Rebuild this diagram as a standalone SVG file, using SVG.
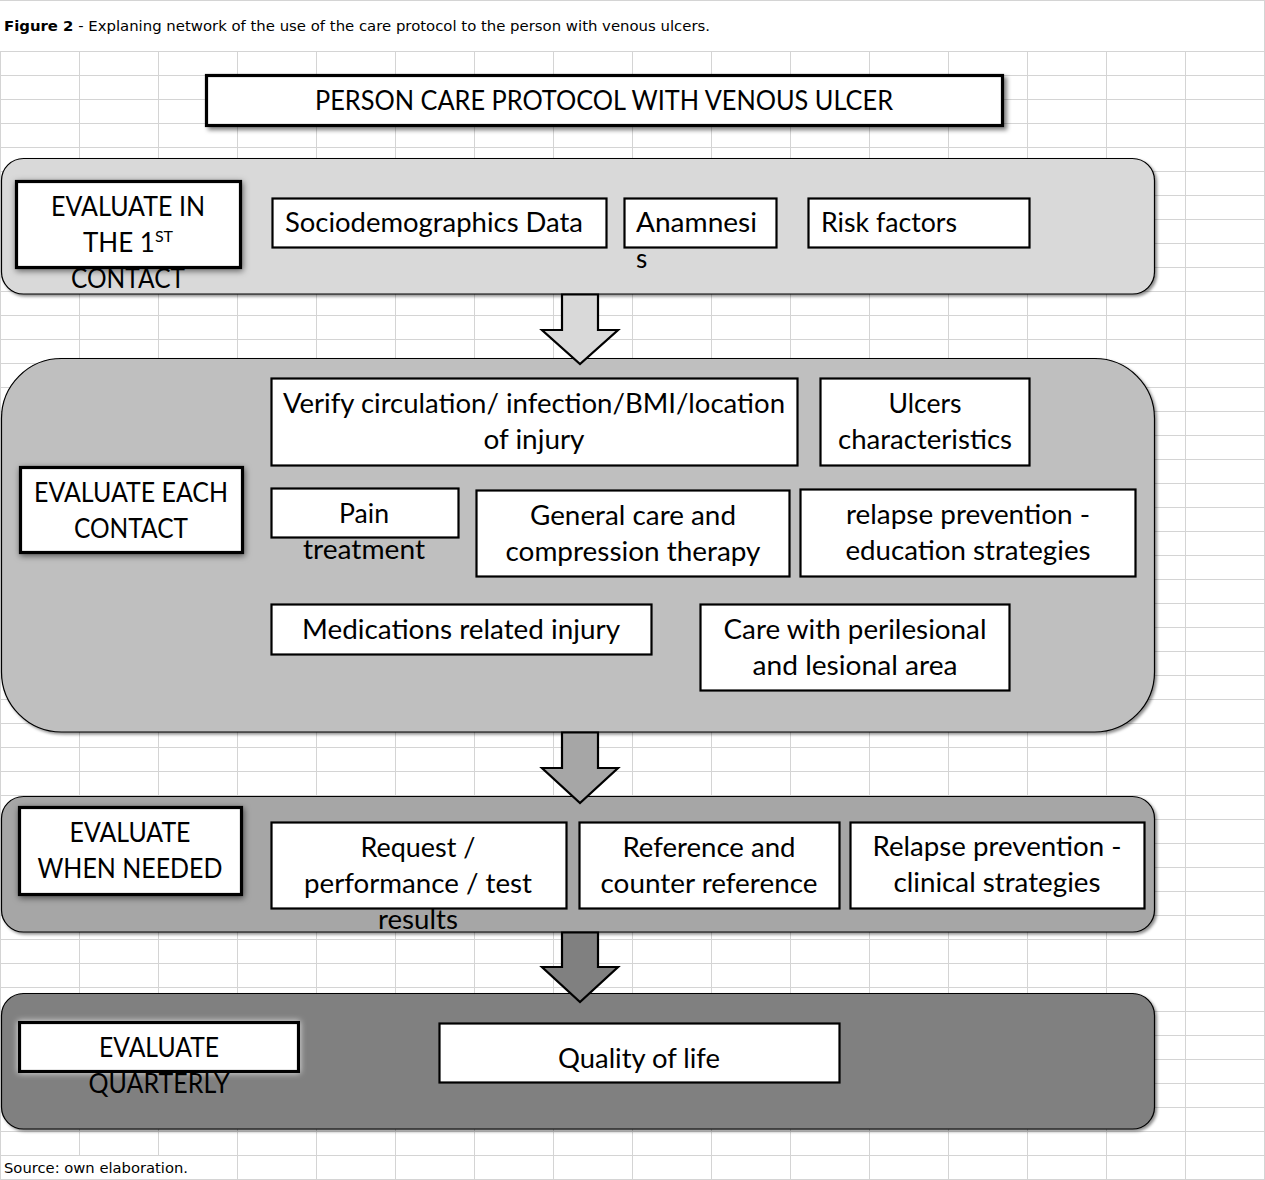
<svg xmlns="http://www.w3.org/2000/svg" width="1265" height="1180" viewBox="0 0 1265 1180">
<defs>
<style>
.grid{stroke:#d4d4d4;stroke-width:1;fill:none}
.panel{stroke:#000;stroke-width:1.2}
.box{fill:#fff;stroke:#000;stroke-width:2.2}
.hbox{fill:#fff;stroke:#000;stroke-width:3.2}
.t{font-family:Lato,"Open Sans","Liberation Sans",sans-serif;font-size:26px;fill:#000}
.c{text-anchor:middle}
.cap{font-family:"DejaVu Sans",Verdana,sans-serif;font-size:14.7px;fill:#000}
.arrow{stroke:#000;stroke-width:2.2;stroke-linejoin:miter}
</style>
<filter id="pshadow" x="-5%" y="-5%" width="110%" height="120%">
<feDropShadow dx="2" dy="2" stdDeviation="1.5" flood-color="#000" flood-opacity="0.45"/>
</filter>
<filter id="glow" x="-10%" y="-20%" width="120%" height="150%">
<feDropShadow dx="1" dy="2" stdDeviation="3" flood-color="#000" flood-opacity="0.55"/>
</filter>
<filter id="wglow" x="-10%" y="-30%" width="120%" height="160%">
<feDropShadow dx="0" dy="0" stdDeviation="3" flood-color="#fff" flood-opacity="0.8"/>
</filter>
<filter id="tshadow" x="-5%" y="-20%" width="110%" height="150%">
<feDropShadow dx="3" dy="3" stdDeviation="2" flood-color="#000" flood-opacity="0.5"/>
</filter>
</defs>
<rect x="0" y="0" width="1265" height="1180" fill="#fff"/>
<g id="grid" class="grid">
<path d="M0.5,51V1179 M79.5,51V1155 M158.5,51V1155 M237.5,51V1179 M316.5,51V1179 M395.5,51V1179 M474.5,51V1179 M553.5,51V1179 M632.5,51V1179 M711.5,51V1179 M790.5,51V1179 M869.5,51V1179 M948.5,51V1179 M1027.5,51V1179 M1106.5,51V1179 M1185.5,51V1179 M1264.5,0V1179"/>
<path d="M0,0.5H1265 M0,51.5H1265 M0,75.5H1265 M0,99.5H1265 M0,123.5H1265 M0,147.5H1265 M0,171.5H1265 M0,195.5H1265 M0,219.5H1265 M0,243.5H1265 M0,267.5H1265 M0,291.5H1265 M0,315.5H1265 M0,339.5H1265 M0,363.5H1265 M0,387.5H1265 M0,411.5H1265 M0,435.5H1265 M0,459.5H1265 M0,483.5H1265 M0,507.5H1265 M0,531.5H1265 M0,555.5H1265 M0,579.5H1265 M0,603.5H1265 M0,627.5H1265 M0,651.5H1265 M0,675.5H1265 M0,699.5H1265 M0,723.5H1265 M0,747.5H1265 M0,771.5H1265 M0,795.5H1265 M0,819.5H1265 M0,843.5H1265 M0,867.5H1265 M0,891.5H1265 M0,915.5H1265 M0,939.5H1265 M0,963.5H1265 M0,987.5H1265 M0,1011.5H1265 M0,1035.5H1265 M0,1059.5H1265 M0,1083.5H1265 M0,1107.5H1265 M0,1131.5H1265 M0,1155.5H1265 M0,1179.5H1265"/>
</g>
<text id="caption" class="cap" x="4" y="31" textLength="706" lengthAdjust="spacingAndGlyphs"><tspan font-weight="bold">Figure 2</tspan> - Explaning network of the use of the care protocol to the person with venous ulcers.</text>

<g id="title">
<rect class="hbox" x="206.5" y="75.5" width="796" height="50" filter="url(#tshadow)"/>
<text class="t c" x="604" y="110" textLength="578" lengthAdjust="spacingAndGlyphs">PERSON CARE PROTOCOL WITH VENOUS ULCER</text>
</g>

<g id="panel-first-contact"><rect class="panel" x="1.5" y="158.5" width="1153" height="135.5" rx="22" fill="#d9d9d9" filter="url(#pshadow)"/></g>
<g id="panel-each-contact"><rect class="panel" x="1.5" y="358.5" width="1153" height="373.5" rx="60" fill="#bfbfbf" filter="url(#pshadow)"/></g>
<g id="panel-when-needed"><rect class="panel" x="1.5" y="796.5" width="1153" height="135.5" rx="22" fill="#a6a6a6" filter="url(#pshadow)"/></g>
<g id="panel-quarterly"><rect class="panel" x="1.5" y="993.5" width="1153" height="135.5" rx="22" fill="#808080" filter="url(#pshadow)"/></g>

<g id="connectors">
<path class="arrow" fill="#d9d9d9" d="M562,294.5V330H542L580,364L618,330H598V294.5Z"/>
<path class="arrow" fill="#a6a6a6" d="M562,732.5V768H542L580,803L618,768H598V732.5Z"/>
<path class="arrow" fill="#808080" d="M562,932.5V967H542L580,1002L618,967H598V932.5Z"/>
</g>

<g id="evaluate-first-contact">
<rect class="hbox" x="16.5" y="181.5" width="224" height="86" filter="url(#glow)"/>
<text class="t c" x="128" y="216" textLength="154" lengthAdjust="spacingAndGlyphs">EVALUATE IN</text>
<text class="t c" x="128" y="252">THE 1<tspan font-size="16" dy="-10">ST</tspan></text>
<text class="t c" x="128" y="288" textLength="114" lengthAdjust="spacingAndGlyphs">CONTACT</text>
</g>
<g id="sociodemographics">
<rect class="box" x="272.5" y="198.5" width="334" height="49"/>
<text class="t" x="285" y="232" textLength="298" lengthAdjust="spacingAndGlyphs">Sociodemographics Data</text>
</g>
<g id="anamnesis">
<rect class="box" x="624.5" y="198.5" width="152" height="49"/>
<text class="t" x="636" y="232" textLength="121" lengthAdjust="spacingAndGlyphs">Anamnesi</text>
<text class="t" x="636" y="268">s</text>
</g>
<g id="risk-factors">
<rect class="box" x="808.5" y="198.5" width="221" height="49"/>
<text class="t" x="821" y="232" textLength="136" lengthAdjust="spacingAndGlyphs">Risk factors</text>
</g>

<g id="evaluate-each-contact">
<rect class="hbox" x="20.5" y="467.5" width="222" height="85" filter="url(#glow)"/>
<text class="t c" x="131" y="502" textLength="194" lengthAdjust="spacingAndGlyphs">EVALUATE EACH</text>
<text class="t c" x="131" y="538" textLength="114" lengthAdjust="spacingAndGlyphs">CONTACT</text>
</g>
<g id="verify-circulation">
<rect class="box" x="271.5" y="378.5" width="526" height="87"/>
<text class="t c" x="534" y="413" textLength="502" lengthAdjust="spacingAndGlyphs">Verify circulation/ infection/BMI/location</text>
<text class="t c" x="534" y="449" textLength="101" lengthAdjust="spacingAndGlyphs">of injury</text>
</g>
<g id="ulcers-characteristics">
<rect class="box" x="820.5" y="378.5" width="209" height="87"/>
<text class="t c" x="925" y="413" textLength="73" lengthAdjust="spacingAndGlyphs">Ulcers</text>
<text class="t c" x="925" y="449" textLength="174" lengthAdjust="spacingAndGlyphs">characteristics</text>
</g>
<g id="pain-treatment">
<rect class="box" x="271.5" y="488.5" width="187" height="49"/>
<text class="t c" x="364" y="523" textLength="50" lengthAdjust="spacingAndGlyphs">Pain</text>
<text class="t c" x="364" y="559" textLength="122" lengthAdjust="spacingAndGlyphs">treatment</text>
</g>
<g id="general-care">
<rect class="box" x="476.5" y="490.5" width="313" height="86"/>
<text class="t c" x="633" y="525" textLength="206" lengthAdjust="spacingAndGlyphs">General care and</text>
<text class="t c" x="633" y="561" textLength="255" lengthAdjust="spacingAndGlyphs">compression therapy</text>
</g>
<g id="relapse-education">
<rect class="box" x="800.5" y="489.5" width="335" height="87"/>
<text class="t c" x="968" y="524" textLength="244" lengthAdjust="spacingAndGlyphs">relapse prevention -</text>
<text class="t c" x="968" y="560" textLength="245" lengthAdjust="spacingAndGlyphs">education strategies</text>
</g>
<g id="medications">
<rect class="box" x="271.5" y="604.5" width="380" height="50"/>
<text class="t c" x="461" y="639" textLength="318" lengthAdjust="spacingAndGlyphs">Medications related injury</text>
</g>
<g id="perilesional-care">
<rect class="box" x="700.5" y="604.5" width="309" height="86"/>
<text class="t c" x="855" y="639" textLength="263" lengthAdjust="spacingAndGlyphs">Care with perilesional</text>
<text class="t c" x="855" y="675" textLength="205" lengthAdjust="spacingAndGlyphs">and lesional area</text>
</g>

<g id="evaluate-when-needed">
<rect class="hbox" x="19.5" y="807.5" width="222" height="87" filter="url(#glow)"/>
<text class="t c" x="130" y="842" textLength="121" lengthAdjust="spacingAndGlyphs">EVALUATE</text>
<text class="t c" x="130" y="878" textLength="185" lengthAdjust="spacingAndGlyphs">WHEN NEEDED</text>
</g>
<g id="request-tests">
<rect class="box" x="271.5" y="822.5" width="295" height="86"/>
<text class="t c" x="418" y="857" textLength="115" lengthAdjust="spacingAndGlyphs">Request /</text>
<text class="t c" x="418" y="893" textLength="228" lengthAdjust="spacingAndGlyphs">performance / test</text>
<text class="t c" x="418" y="929" textLength="80" lengthAdjust="spacingAndGlyphs">results</text>
</g>
<g id="reference-counter">
<rect class="box" x="579.5" y="822.5" width="260" height="86"/>
<text class="t c" x="709" y="857" textLength="173" lengthAdjust="spacingAndGlyphs">Reference and</text>
<text class="t c" x="709" y="893" textLength="217" lengthAdjust="spacingAndGlyphs">counter reference</text>
</g>
<g id="relapse-clinical">
<rect class="box" x="850.5" y="822.5" width="294" height="86"/>
<text class="t c" x="997" y="856" textLength="249" lengthAdjust="spacingAndGlyphs">Relapse prevention -</text>
<text class="t c" x="997" y="892" textLength="207" lengthAdjust="spacingAndGlyphs">clinical strategies</text>
</g>

<g id="evaluate-quarterly">
<rect class="hbox" x="19.5" y="1022.5" width="279" height="49" filter="url(#wglow)"/>
<text class="t c" x="159" y="1057" textLength="120" lengthAdjust="spacingAndGlyphs">EVALUATE</text>
<text class="t c" x="159" y="1093" textLength="141" lengthAdjust="spacingAndGlyphs">QUARTERLY</text>
</g>
<g id="quality-of-life">
<rect class="box" x="439.5" y="1023.5" width="400" height="59"/>
<text class="t c" x="639" y="1068" textLength="162" lengthAdjust="spacingAndGlyphs">Quality of life</text>
</g>

<text id="source" class="cap" x="4" y="1173" textLength="184" lengthAdjust="spacingAndGlyphs">Source: own elaboration.</text>
</svg>
